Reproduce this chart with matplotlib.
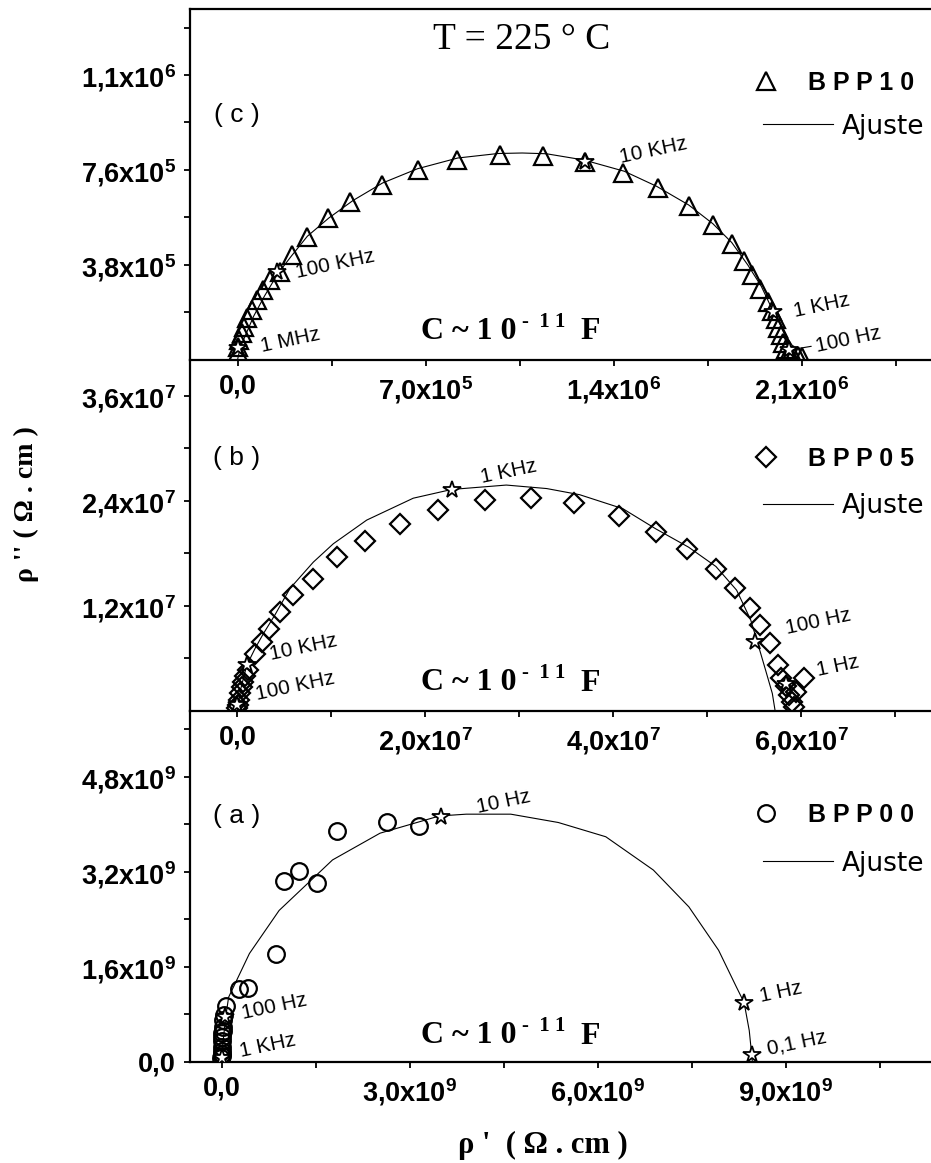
import matplotlib
matplotlib.use("Agg")
import matplotlib.pyplot as plt
from matplotlib.lines import Line2D

plt.rcParams["mathtext.default"] = "regular"
plt.rcParams["font.family"] = ["Liberation Sans", "DejaVu Sans"]

# ---- BPP10 (c) ----
bpp10_re = [0.0, 2e3, 6.7e3, 1.56e4, 2.5e4, 3.7e4, 5.3e4, 7.4e4, 9.6e4, 1.21e5, 1.58e5,
            2.02e5, 2.58e5, 3.38e5, 4.19e5, 5.37e5, 6.73e5, 8.16e5, 9.77e5, 1.136e6,
            1.293e6, 1.437e6, 1.565e6, 1.68e6, 1.769e6, 1.842e6, 1.885e6, 1.914e6,
            1.945e6, 1.975e6, 1.99e6, 2.005e6, 2.013e6, 2.022e6, 2.032e6, 2.042e6,
            2.055e6, 2.07e6, 2.085e6, 2.1e6]
bpp10_im = [3.0e4, 5.3e4, 8.0e4, 1.07e5, 1.33e5, 1.67e5, 2.0e5, 2.4e5, 2.8e5, 3.2e5, 3.53e5,
            4.2e5, 4.93e5, 5.67e5, 6.33e5, 7.0e5, 7.6e5, 8.0e5, 8.2e5, 8.16e5,
            7.9e5, 7.49e5, 6.87e5, 6.17e5, 5.4e5, 4.64e5, 3.95e5, 3.4e5,
            2.84e5, 2.33e5, 1.95e5, 1.65e5, 1.26e5, 1.0e5, 6.7e4, 4.5e4,
            3.0e4, 2.0e4, 1.5e4, 1.2e4]
fit10_re = [0, 1.0e4, 3.0e4, 6.0e4, 1.0e5, 1.5e5, 2.0e5, 2.6e5, 3.4e5, 4.3e5, 5.4e5, 6.7e5,
            8.2e5, 9.7e5, 1.06e6, 1.15e6, 1.29e6, 1.44e6, 1.56e6, 1.68e6, 1.77e6, 1.84e6,
            1.90e6, 1.95e6, 1.995e6, 2.045e6, 2.076e6, 2.094e6]
fit10_im = [0, 5.0e4, 1.0e5, 1.75e5, 2.55e5, 3.45e5, 4.15e5, 4.95e5, 5.68e5, 6.38e5, 7.08e5,
            7.65e5, 8.08e5, 8.26e5, 8.28e5, 8.25e5, 8.0e5, 7.55e5, 6.95e5, 6.2e5, 5.45e5,
            4.7e5, 3.8e5, 2.95e5, 1.93e5, 9.3e4, 4.0e4, 0]
freq10_re = [0.0, 1.46e5, 1.293e6, 1.994e6, 2.055e6]
freq10_im = [4.7e4, 3.53e5, 7.9e5, 1.93e5, 4.0e4]
freq10_lbl = ["1 MHz", "100 KHz", "10 KHz", "1 KHz", "100 Hz"]

# ---- BPP05 (b) ----
bpp05_re = [0.0, 1e5, 2e5, 2.7e5, 4.5e5, 6.2e5, 8.5e5, 1.15e6, 1.86e6, 2.57e6, 3.38e6,
            4.52e6, 5.94e6, 8.07e6, 1.055e7, 1.356e7, 1.73e7, 2.136e7, 2.63e7, 3.12e7,
            3.58e7, 4.06e7, 4.45e7, 4.78e7, 5.09e7, 5.29e7, 5.45e7, 5.56e7, 5.67e7,
            5.75e7, 5.78e7, 5.84e7, 5.87e7, 5.9e7, 5.92e7, 5.94e7, 6.03e7]
bpp05_im = [3e5, 6.5e5, 1.2e6, 2.0e6, 2.7e6, 3.3e6, 4.0e6, 4.65e6, 6.56e6, 7.9e6, 9.4e6,
            1.13e7, 1.32e7, 1.51e7, 1.76e7, 1.94e7, 2.14e7, 2.29e7, 2.41e7, 2.43e7,
            2.38e7, 2.23e7, 2.04e7, 1.85e7, 1.62e7, 1.40e7, 1.18e7, 9.8e6, 7.8e6,
            5.3e6, 3.8e6, 2.8e6, 1.8e6, 1.0e6, 4e5, 2.2e6, 3.8e6]
fit05_re = [0, 3.2e5, 9.8e5, 1.9e6, 2.74e6, 4.0e6, 5.59e6, 8.07e6, 1.02e7, 1.375e7, 1.87e7,
            2.28e7, 2.86e7, 3.29e7, 3.64e7, 4.1e7, 4.45e7, 4.8e7, 5.09e7, 5.31e7, 5.46e7,
            5.53e7, 5.62e7, 5.69e7, 5.72e7]
fit05_im = [0, 2.4e6, 5.2e6, 7.2e6, 8.8e6, 1.1e7, 1.4e7, 1.7e7, 1.91e7, 2.18e7, 2.43e7,
            2.53e7, 2.58e7, 2.54e7, 2.47e7, 2.31e7, 2.08e7, 1.87e7, 1.65e7, 1.38e7, 1.04e7,
            7.9e6, 4.6e6, 2.0e6, 0]
freq05_re = [0.0, 9.8e5, 2.28e7, 5.51e7, 5.84e7]
freq05_im = [6.5e5, 5.2e6, 2.52e7, 7.9e6, 3.1e6]
freq05_lbl = ["100 KHz", "10 KHz", "1 KHz", "100 Hz", "1 Hz"]

# ---- BPP00 (a) ----
bpp00_re = [-1e7, 0, 0, 0, 0, 5e6, 1e7, 1.5e7, 2e7, 2.5e7, 3e7, 4e7, 6.7e7, 2.84e8, 4.26e8,
            8.71e8, 9.94e8, 1.232e9, 1.516e9, 1.838e9, 2.644e9, 3.155e9]
bpp00_im = [6e7, 1e8, 1.4e8, 1.9e8, 2.5e8, 3.6e8, 4.2e8, 4.8e8, 5.3e8, 5.9e8, 7.0e8, 7.9e8,
            9.4e8, 1.22e9, 1.25e9, 1.825e9, 3.04e9, 3.22e9, 3.01e9, 3.89e9, 4.03e9, 3.97e9]
fit00_re = [0, 2.0e7, 6.7e7, 1.13e8, 4.45e8, 9.19e8, 1.771e9, 2.529e9, 3.477e9, 3.905e9,
            4.615e9, 5.373e9, 6.131e9, 6.89e9, 7.457e9, 7.931e9, 8.216e9, 8.338e9, 8.42e9,
            8.46e9, 8.47e9]
fit00_im = [0, 3.0e8, 7.6e8, 1.09e9, 1.825e9, 2.55e9, 3.4e9, 3.85e9, 4.14e9, 4.17e9,
            4.17e9, 4.03e9, 3.79e9, 3.23e9, 2.61e9, 1.88e9, 1.26e9, 1.0e9, 5.3e8,
            1.13e8, 0]
freq00_re = [0.0, 4.8e7, 3.506e9, 8.338e9, 8.46e9]
freq00_im = [7.4e7, 7.6e8, 4.13e9, 1.0e9, 1.13e8]
freq00_lbl = ["1 KHz", "100 Hz", "10 Hz", "1 Hz", "0,1 Hz"]

# label offsets (pixels) from each marked frequency
off10 = [(53, 8), (58, 7), (69, 12), (49, 6), (59, 10)]
off05 = [(58, 19), (57, 18), (57, 19), (63, 20), (51, 18)]
off00 = [(46, 12), (50, 10), (62, 15), (37, 10), (45, 12)]

W, H = 931.0, 1163.0
fig = plt.figure(figsize=(W / 100, H / 100), dpi=100)
left, width, hgt = 190 / W, 741 / W, 351 / H
ax_c = fig.add_axes([left, 1 - 360 / H, width, hgt])
ax_b = fig.add_axes([left, 1 - 711 / H, width, hgt])
ax_a = fig.add_axes([left, 1 - 1062 / H, width, hgt])

tickfont = dict(family="Liberation Sans", weight="bold", size=19.5)


def setup(ax, xlim, ylim, xt, xl, xm, yt, yl, ym, top=False):
    ax.patch.set_visible(False)
    ax.set_xlim(xlim)
    ax.set_ylim(ylim)
    ax.set_xticks(xt)
    ax.set_xticklabels(xl, fontdict=tickfont)
    ax.set_xticks(xm, minor=True)
    ax.set_yticks(yt)
    ax.set_yticklabels(yl, fontdict=tickfont)
    ax.set_yticks(ym, minor=True)
    ax.spines["right"].set_visible(False)
    ax.spines["top"].set_visible(top)
    for s in ax.spines.values():
        s.set_linewidth(1.6)
    ax.tick_params(which="both", direction="out", length=4, width=1.3,
                   top=False, right=False)
    ax.tick_params(axis="x", pad=6)
    ax.tick_params(axis="y", pad=6)


setup(ax_c, (-1.769e5, 2.582e6), (0, 1.404e6),
      [0, 7e5, 1.4e6, 2.1e6], ["0,0", "7,0x10$^5$", "1,4x10$^6$", "2,1x10$^6$"],
      [3.5e5, 1.05e6, 1.75e6, 2.45e6],
      [3.8e5, 7.6e5, 1.14e6], ["3,8x10$^5$", "7,6x10$^5$", "1,1x10$^6$"],
      [1.9e5, 5.7e5, 9.5e5, 1.33e6], top=True)
setup(ax_b, (-5.05e6, 7.378e7), (0, 4.008e7),
      [0, 2e7, 4e7, 6e7], ["0,0", "2,0x10$^7$", "4,0x10$^7$", "6,0x10$^7$"],
      [1e7, 3e7, 5e7, 7e7],
      [1.2e7, 2.4e7, 3.6e7], ["1,2x10$^7$", "2,4x10$^7$", "3,6x10$^7$"],
      [0.6e7, 1.8e7, 3.0e7])
setup(ax_a, (-5.03e8, 1.132e10), (0, 5.906e9),
      [0, 3e9, 6e9, 9e9], ["0,0", "3,0x10$^9$", "6,0x10$^9$", "9,0x10$^9$"],
      [1.5e9, 4.5e9, 7.5e9, 1.05e10],
      [0, 1.6e9, 3.2e9, 4.8e9], ["0,0", "1,6x10$^9$", "3,2x10$^9$", "4,8x10$^9$"],
      [0.8e9, 2.4e9, 4.0e9, 5.6e9])

panels = [
    (ax_c, bpp10_re, bpp10_im, "^", 12.5, fit10_re, fit10_im, freq10_re, freq10_im,
     freq10_lbl, off10, "B P P 1 0", "( c )", 0.698, 0.789, 0.665, 0.060),
    (ax_b, bpp05_re, bpp05_im, "D", 10.5, fit05_re, fit05_im, freq05_re, freq05_im,
     freq05_lbl, off05, "B P P 0 5", "( b )", 0.722, 0.719, 0.584, 0.059),
    (ax_a, bpp00_re, bpp00_im, "o", 12, fit00_re, fit00_im, freq00_re, freq00_im,
     freq00_lbl, off00, "B P P 0 0", "( a )", 0.701, 0.703, 0.565, 0.053),
]

for (ax, xr, xi, mk, ms, fr, fi, sr, si, lbls, offs, name, tag,
     tag_y, leg_y, fit_y, c_y) in panels:
    ax.plot(fr, fi, color="k", lw=0.8, zorder=2)
    ax.plot(xr, xi, ls="none", marker=mk, ms=ms, mfc="none", mec="k", mew=1.6, zorder=3)
    ax.plot(sr, si, ls="none", marker="*", ms=13, mfc="white", mec="k", mew=1.3, zorder=4)
    for x, y, t, (dx, dy) in zip(sr, si, lbls, offs):
        kw = {}
        if ax is ax_c and t == "100 Hz":
            kw["arrowprops"] = dict(arrowstyle="-", lw=0.8, shrinkA=20, shrinkB=4)
        ax.annotate(t, (x, y), xytext=(dx, dy), textcoords="offset pixels",
                    ha="center", va="center", rotation=12, fontsize=15,
                    family="Liberation Sans", **kw)

    h1 = Line2D([], [], ls="none", marker=mk, ms=ms, mfc="none", mec="k", mew=1.6)
    leg1 = ax.legend([h1], [name], loc="center left", bbox_to_anchor=(0.760, leg_y),
                     frameon=False, handlelength=1.0, handletextpad=1.2, borderpad=0,
                     borderaxespad=0,
                     prop=dict(family="Liberation Sans", weight="bold", size=18))
    ax.add_artist(leg1)
    h2 = Line2D([], [], color="k", lw=0.8)
    ax.legend([h2], ["Ajuste"], loc="center left", bbox_to_anchor=(0.773, fit_y),
              frameon=False, handlelength=2.65, handletextpad=0.34, borderpad=0,
              borderaxespad=0, prop=dict(family="DejaVu Sans", size=19))

    ax.text(0.063, tag_y, tag, transform=ax.transAxes, ha="center", va="center",
            fontsize=19, family="Liberation Sans")

    # capacitance note: "C ~ 1 0" followed by a raised "- 1 1" and "F"
    serif_b = dict(family="Liberation Serif", weight="bold")
    t1 = ax.text(0.312, c_y, "C ~ 1 0", transform=ax.transAxes, ha="left",
                 va="baseline", fontsize=23, **serif_b)
    t2 = ax.annotate("-  1 1", xy=(1, 0), xycoords=t1, xytext=(5, 19),
                     textcoords="offset pixels", va="baseline", fontsize=15, **serif_b)
    ax.annotate("F", xy=(1, 0), xycoords=t2, xytext=(15, -7.5),
                textcoords="offset pixels", va="baseline", fontsize=23, **serif_b)

ax_c.text(0.448, 0.912, "T = 225 ° C", transform=ax_c.transAxes, ha="center",
          va="center", fontsize=27, family="Liberation Serif")

fig.text(26 / W, 1 - 504 / H, "ρ '' ( Ω . cm )", rotation=90, ha="center",
         va="center", fontsize=20, family="Liberation Serif", weight="bold")
fig.text(543 / W, 1 - 1145 / H, "ρ '  ( Ω . cm )", ha="center", va="center",
         fontsize=22, family="Liberation Serif", weight="bold")

fig.savefig("out.png", dpi=100)
